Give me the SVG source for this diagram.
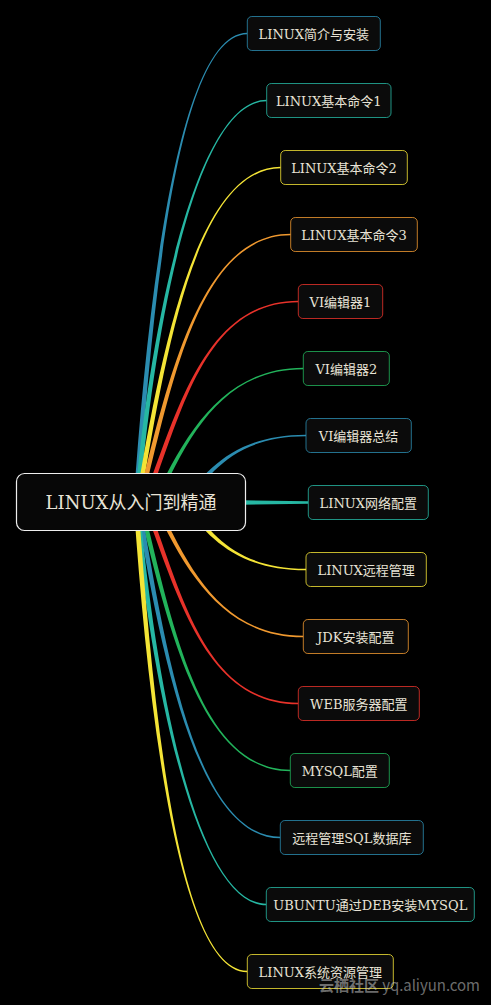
<svg xmlns="http://www.w3.org/2000/svg" width="491" height="1005" viewBox="0 0 491 1005">
<style>
.node rect{fill:#0b0b0b;stroke-width:1;stroke-opacity:0.8}
.node text{font-family:"DejaVu Serif","Noto Sans CJK SC",serif;font-size:13px;fill:#e8e3d6;text-anchor:middle}
.root rect{fill:#070707;stroke:#eeeeee;stroke-width:1.2}
.root text{font-family:"DejaVu Serif","Noto Sans CJK SC",serif;font-size:18px;fill:#e8e3d6;text-anchor:middle}
.blue{fill:#2b8cb0}.teal{fill:#26b7a3}.yellow{fill:#f4e436}.orange{fill:#f0992f}.red{fill:#e8322a}.green{fill:#22b35b}
.sblue{stroke:#2b8cb0}.steal{stroke:#26b7a3}.syellow{stroke:#f4e436}.sorange{stroke:#f0992f}.sred{stroke:#e8322a}.sgreen{stroke:#22b35b}
</style>
<rect x="0" y="0" width="491" height="1005" fill="#000"/>
<g id="connectors">
<path class="blue" d="M133.6,502.5 C147.6,300 178,32.7 247.3,32.7 L247.3,34.3 C178,34.3 152.4,300 138.4,502.5 Z"/>
<path class="teal" d="M134.6,502.5 C149.6,330 195,99.7 266.7,99.7 L266.7,101.3 C195,101.3 154.4,330 139.4,502.5 Z"/>
<path class="yellow" d="M135.6,502.5 C159.6,360 195,166.7 280.7,166.7 L280.7,168.3 C195,168.3 164.4,360 140.4,502.5 Z"/>
<path class="orange" d="M137.6,502.5 C167.6,380 200,233.7 290.7,233.7 L290.7,235.3 C200,235.3 172.4,380 142.4,502.5 Z"/>
<path class="red" d="M142.6,502.5 C177.6,410 205,300.7 298.3,300.7 L298.3,302.3 C205,302.3 182.4,410 147.4,502.5 Z"/>
<path class="green" d="M152.6,502.5 C182.6,440 220,367.7 303.3,367.7 L303.3,369.3 C220,369.3 187.4,440 157.4,502.5 Z"/>
<path class="blue" d="M183.1,501.1 C206.1,470.6 235,434.7 306,434.7 L306,436.3 C235,436.3 209.9,473.4 186.9,503.9 Z"/>
<path class="teal" d="M200,499.5 L308.3,501.3 L308.3,503.7 L200,505.5 Z"/>
<path class="yellow" d="M183.1,503.9 C206.1,534.4 235,570.3 306,570.3 L306,568.7 C235,568.7 209.9,531.6 186.9,501.1 Z"/>
<path class="orange" d="M152.6,502.5 C182.6,565 220,637.3 303.3,637.3 L303.3,635.7 C220,635.7 187.4,565 157.4,502.5 Z"/>
<path class="red" d="M142.6,502.5 C177.6,595 205,704.3 298.3,704.3 L298.3,702.7 C205,702.7 182.4,595 147.4,502.5 Z"/>
<path class="green" d="M137.6,502.5 C167.6,625 200,771.3 290.3,771.3 L290.3,769.7 C200,769.7 172.4,625 142.4,502.5 Z"/>
<path class="blue" d="M135.6,502.5 C159.6,645 195,838.3 280.3,838.3 L280.3,836.7 C195,836.7 164.4,645 140.4,502.5 Z"/>
<path class="teal" d="M134.6,502.5 C149.6,675 195,905.3 266.3,905.3 L266.3,903.7 C195,903.7 154.4,675 139.4,502.5 Z"/>
<path class="yellow" d="M133.6,502.5 C147.6,705 178,972.3 247.3,972.3 L247.3,970.7 C178,970.7 152.4,705 138.4,502.5 Z"/>
</g>
<g id="root" class="root">
<rect x="16.5" y="473.5" width="229" height="57" rx="8"/>
<text x="131" y="509">LINUX从入门到精通</text>
</g>
<g id="n1" class="node"><rect class="sblue" x="247.3" y="16.5" width="133" height="34" rx="4.5"/><text x="313.8" y="38.5">LINUX简介与安装</text></g>
<g id="n2" class="node"><rect class="steal" x="266.7" y="83.5" width="124.3" height="34" rx="4.5"/><text x="328.8" y="105.5">LINUX基本命令1</text></g>
<g id="n3" class="node"><rect class="syellow" x="280.7" y="150.5" width="126.6" height="34" rx="4.5"/><text x="344" y="172.5">LINUX基本命令2</text></g>
<g id="n4" class="node"><rect class="sorange" x="290.7" y="217.5" width="126.6" height="34" rx="4.5"/><text x="354" y="239.5">LINUX基本命令3</text></g>
<g id="n5" class="node"><rect class="sred" x="298.3" y="284.5" width="84.4" height="34" rx="4.5"/><text x="340.5" y="306.5">VI编辑器1</text></g>
<g id="n6" class="node"><rect class="sgreen" x="303.3" y="351.5" width="86" height="34" rx="4.5"/><text x="346.3" y="373.5">VI编辑器2</text></g>
<g id="n7" class="node"><rect class="sblue" x="306" y="418.5" width="105.3" height="34" rx="4.5"/><text x="358.6" y="440.5">VI编辑器总结</text></g>
<g id="n8" class="node"><rect class="steal" x="308.3" y="485.5" width="120" height="34" rx="4.5"/><text x="368.3" y="507.5">LINUX网络配置</text></g>
<g id="n9" class="node"><rect class="syellow" x="306" y="552.5" width="120.3" height="34" rx="4.5"/><text x="366.2" y="574.5">LINUX远程管理</text></g>
<g id="n10" class="node"><rect class="sorange" x="303.3" y="619.5" width="105" height="34" rx="4.5"/><text x="355.8" y="641.5">JDK安装配置</text></g>
<g id="n11" class="node"><rect class="sred" x="298.3" y="686.5" width="121" height="34" rx="4.5"/><text x="358.8" y="708.5">WEB服务器配置</text></g>
<g id="n12" class="node"><rect class="sgreen" x="290.3" y="753.5" width="99" height="34" rx="4.5"/><text x="339.8" y="775.5">MYSQL配置</text></g>
<g id="n13" class="node"><rect class="sblue" x="280.3" y="820.5" width="143" height="34" rx="4.5"/><text x="351.8" y="842.5">远程管理SQL数据库</text></g>
<g id="n14" class="node"><rect class="steal" x="266.3" y="887.5" width="208" height="34" rx="4.5"/><text x="370.3" y="909.5">UBUNTU通过DEB安装MYSQL</text></g>
<g id="n15" class="node"><rect class="syellow" x="247.3" y="954.5" width="146" height="34" rx="4.5"/><text x="320.3" y="976.5">LINUX系统资源管理</text></g>
<text x="319" y="991" textLength="161" font-family="'Noto Sans CJK SC','Liberation Sans',sans-serif" font-size="15" fill="#c8c8c8" fill-opacity="0.55"><tspan font-weight="bold">云栖社区</tspan> yq.aliyun.com</text>
</svg>
